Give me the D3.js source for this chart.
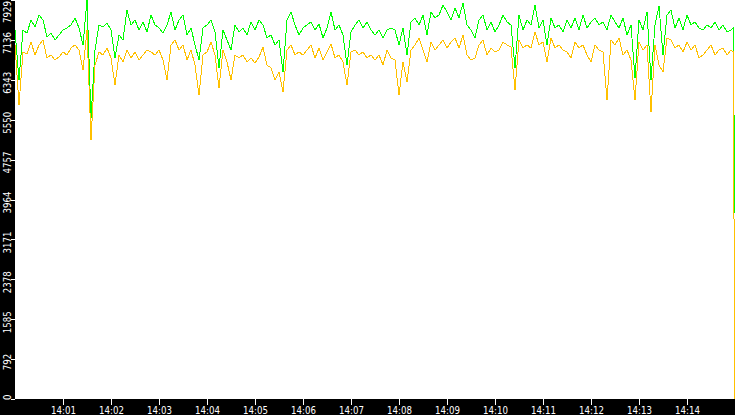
<!DOCTYPE html>
<html lang="en">
<head>
<meta charset="utf-8">
<script src="https://cdn.jsdelivr.net/npm/d3@7"></script>
<style>
  body { margin: 0; background: #fff; }
  svg { display: block; }
  .axis text { fill: #fff; font-family: "DejaVu Sans", sans-serif; font-stretch: condensed; font-size: 9.6px; }
  .axis line { stroke: #fff; shape-rendering: crispEdges; }
  .series { fill: none; stroke-width: 1; shape-rendering: crispEdges; }
</style>
</head>
<body>
<div id="chart"></div>
<script>
// samples every 5 seconds from 14:00:00, plus the last two readings of 14:14
const startTime = new Date(2020, 0, 1, 14, 0, 0)
const stepSeconds = 5
const tailSeconds = [898, 899.6]

const greenValues = [
  7333, 6339, 7333, 7273, 7532, 7392, 7631, 7532, 7194, 7273,
  7134, 7234, 7333, 7373, 7432, 7571, 7373, 7035, 7929, 5584,
  6936, 7432, 7392, 7472, 7333, 6777, 7234, 7134, 7730, 7432,
  7532, 7333, 7492, 7293, 7631, 7432, 7373, 7273, 7432, 7691,
  7333, 7532, 7631, 7234, 7373, 7035, 6737, 7373, 7432, 7532,
  7293, 6578, 7333, 7134, 6936, 7432, 7293, 7373, 7234, 7492,
  7333, 7532, 7432, 7174, 7234, 7035, 7134, 6498, 7532, 7691,
  7432, 7234, 7373, 7432, 7492, 7333, 7452, 7174, 7373, 7691,
  7333, 7432, 7234, 6637, 7293, 7432, 7532, 7373, 7492, 7333,
  7234, 7333, 7174, 7333, 7373, 7333, 7035, 7373, 6836, 7492,
  7571, 7432, 7631, 7234, 7691, 7571, 7631, 7830, 7691, 7532,
  7770, 7571, 7869, 7432, 7333, 7174, 7532, 7631, 7333, 7492,
  7293, 7432, 7631, 7492, 7432, 6578, 7631, 7333, 7532, 7432,
  7830, 7373, 7532, 7035, 7571, 7373, 7432, 7293, 7532, 7373,
  7571, 7333, 7631, 7373, 7492, 7571, 7432, 7492, 7333, 7631,
  7492, 7373, 7571, 7234, 7432, 6379, 7532, 7333, 7691, 6339,
  7432, 7810, 6836, 7631, 7730, 7373, 7571, 7333, 7631, 7432,
  7492, 7373, 7333, 7432, 7373, 7492, 7333, 7432, 7293, 7333,
  7373, 3697
]

const orangeValues = [
  7035, 5843, 6896, 6856, 7094, 6836, 7035, 7134, 6777, 6836,
  6737, 6796, 6896, 6836, 6975, 7035, 6936, 6538, 7333, 5147,
  6637, 6896, 6836, 6975, 6777, 6240, 6836, 6697, 6936, 6777,
  6896, 6737, 6836, 6936, 6896, 6836, 6936, 6737, 6339, 7035,
  7134, 6936, 7035, 6737, 6936, 6637, 6042, 6836, 6896, 7094,
  6836, 6180, 6936, 6697, 6339, 6836, 6777, 6836, 6697, 6777,
  6677, 6796, 6995, 6637, 6578, 6339, 6498, 6101, 6936, 7035,
  6836, 6896, 6836, 6936, 7035, 6777, 6975, 6737, 6896, 7055,
  6777, 6836, 6697, 6240, 6896, 6936, 6836, 6896, 6777, 6836,
  6737, 6836, 6637, 6936, 6777, 6737, 6042, 6697, 6300, 6936,
  7035, 7174, 6936, 6697, 7094, 6936, 7035, 7134, 6975, 7094,
  7174, 6975, 7234, 6836, 6737, 6777, 7035, 7134, 6836, 6975,
  6896, 6936, 7094, 7035, 6995, 6141, 7134, 6975, 7035, 6975,
  7293, 7035, 7094, 6697, 7174, 6975, 7035, 6936, 6896, 6777,
  7094, 6975, 7035, 6836, 6697, 7035, 6936, 6896, 5942, 7134,
  7035, 7174, 6836, 6936, 6737, 5942, 7094, 6936, 7035, 5704,
  7035, 6637, 6498, 7174, 7134, 6975, 7035, 6896, 7094, 6936,
  7035, 6777, 6836, 6936, 7035, 6836, 6936, 6975, 6836, 6936,
  6896, 0
]

const yTickValues = [0, 792.9, 1585.8, 2378.7, 3171.6, 3964.5, 4757.4, 5550.3, 6343.2, 7136.1, 7929]

const w = 735
const h = 415
const left = 15
const plotBottom = 399

const regularCount = greenValues.length - tailSeconds.length
const times = greenValues.map(function(d, i) {
  const sec = i < regularCount ? i * stepSeconds : tailSeconds[i - regularCount]
  return new Date(startTime.getTime() + sec * 1000)
})

const svg = d3.select('#chart')
  .append('svg')
  .attr('width', w)
  .attr('height', h)

const scaleX = d3.scaleTime()
  .domain([startTime, new Date(startTime.getTime() + 15 * 60 * 1000)])
  .range([left, w])

const scaleY = d3.scaleLinear()
  .domain([0, d3.max(greenValues)])
  .range([plotBottom, 0])

// black frame strips
svg.append('rect')
  .attr('x', 0).attr('y', 0)
  .attr('width', left).attr('height', h)
  .attr('fill', '#000')
svg.append('rect')
  .attr('x', 0).attr('y', plotBottom)
  .attr('width', w).attr('height', h - plotBottom)
  .attr('fill', '#000')

const line = d3.line()
  .x(function(d, i) { return scaleX(times[i]) })
  .y(function(d) { return scaleY(d) })

svg.append('path')
  .datum(greenValues)
  .attr('class', 'series')
  .attr('stroke', '#00ff00')
  .attr('d', line)

svg.append('path')
  .datum(orangeValues)
  .attr('class', 'series')
  .attr('stroke', '#ffc000')
  .attr('d', line)

// x axis
const minuteTicks = d3.timeMinute.range(
  new Date(startTime.getTime() + 60 * 1000),
  new Date(startTime.getTime() + 15 * 60 * 1000)
)

const xAxis = d3.axisBottom(scaleX)
  .tickValues(minuteTicks)
  .tickSize(6)
  .tickFormat(d3.timeFormat('%H:%M'))

const gx = svg.append('g')
  .attr('class', 'axis')
  .attr('transform', 'translate(0,' + plotBottom + ')')
  .call(xAxis)
gx.select('.domain').remove()
gx.selectAll('text').attr('y', 14.5).attr('dy', 0)

// y axis, labels turned on their side
const yAxis = d3.axisLeft(scaleY)
  .tickValues(yTickValues)
  .tickSize(4)
  .tickFormat(function(d) { return String(Math.floor(d)) })

const gy = svg.append('g')
  .attr('class', 'axis')
  .attr('transform', 'translate(' + left + ',0)')
  .call(yAxis)
gy.select('.domain').remove()
gy.selectAll('.tick text').remove()

gy.selectAll('.ylabel')
  .data(yTickValues)
  .enter()
  .append('text')
  .attr('class', 'ylabel')
  .attr('text-anchor', 'middle')
  .text(function(d) { return String(Math.floor(d)) })
  .attr('transform', function(d) {
    const len = this.getComputedTextLength()
    let c = scaleY(d) + 3
    c = Math.max(len / 2 + 1, Math.min(plotBottom + 1 - len / 2, c))
    return 'translate(-4.5,' + c + ') rotate(-90)'
  })
</script>
</body>
</html>
